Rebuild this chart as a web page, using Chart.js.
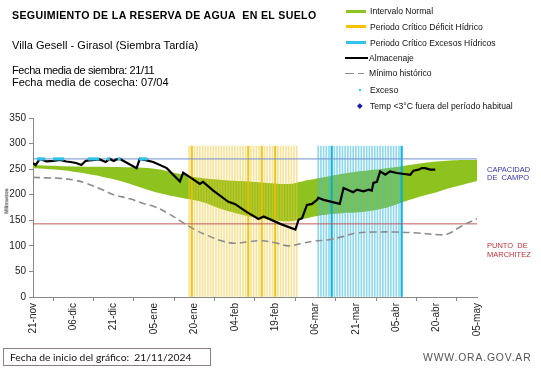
<!DOCTYPE html>
<html><head><meta charset="utf-8">
<script src="https://cdn.jsdelivr.net/npm/chart.js@4.4.1/dist/chart.umd.min.js"></script>
<style>
body{margin:0;background:#fff;}
#wrap{position:relative;width:541px;height:368px;overflow:hidden;font-family:"Liberation Sans",Arial,sans-serif;color:#000;}
#c{position:absolute;left:0;top:0;}
.t{position:absolute;white-space:pre;line-height:1;}
.lg{position:absolute;left:370px;font-size:8.6px;line-height:1;white-space:pre;color:#111;}
.sym{position:absolute;}
</style>
</head><body>
<div id="wrap">
<canvas id="c" width="541" height="368"></canvas>
<div class="t" style="left:12px;top:10px;font-size:10.6px;font-weight:bold;letter-spacing:0.35px;">SEGUIMIENTO DE LA RESERVA DE AGUA  EN EL SUELO</div>
<div class="t" style="left:12px;top:39.6px;font-size:11px;letter-spacing:0.05px;">Villa Gesell - Girasol (Siembra Tardía)</div>
<div class="t" style="left:12px;top:65.3px;font-size:11px;letter-spacing:-0.4px;">Fecha media de siembra: 21/11</div>
<div class="t" style="left:12px;top:77.3px;font-size:11px;">Fecha media de cosecha: 07/04</div>

<div class="sym" style="left:346px;top:9.5px;width:20px;height:3px;background:#8dc21f;"></div>
<div class="lg" style="top:6.8px;">Intervalo Normal</div>
<div class="sym" style="left:346px;top:25.2px;width:20px;height:3px;background:#f5c200;"></div>
<div class="lg" style="top:22.5px;">Periodo Crítico Déficit Hídrico</div>
<div class="sym" style="left:346px;top:41.2px;width:20px;height:3px;background:#33c3ea;"></div>
<div class="lg" style="top:38.5px;">Periodo Crítico Excesos Hídricos</div>
<div class="sym" style="left:345px;top:57.3px;width:23px;height:2px;background:#000;"></div>
<div class="lg" style="top:54.1px;left:369px;">Almacenaje</div>
<div class="sym" style="left:345px;top:72.5px;width:9px;height:1.6px;background:#8c8c8c;"></div>
<div class="sym" style="left:358px;top:72.5px;width:6px;height:1.6px;background:#8c8c8c;"></div>
<div class="lg" style="top:69.1px;left:369px;">Mínimo histórico</div>
<div class="sym" style="left:359px;top:89px;width:2.4px;height:2.4px;background:#2ec4ea;"></div>
<div class="lg" style="top:85.8px;">Exceso</div>
<div class="sym" style="left:358.2px;top:104.2px;width:3.6px;height:3.6px;background:#1c1ca8;transform:rotate(45deg);"></div>
<div class="lg" style="top:101.8px;">Temp &lt;3°C fuera del período habitual</div>

<div class="t" style="left:487px;top:166.3px;font-size:7.5px;color:#3535a8;">CAPACIDAD</div>
<div class="t" style="left:487px;top:174.3px;font-size:7.5px;color:#3535a8;">DE  CAMPO</div>
<div class="t" style="left:487px;top:242.3px;font-size:7.5px;color:#b8353a;">PUNTO  DE</div>
<div class="t" style="left:487px;top:251.3px;font-size:7.5px;color:#b8353a;">MARCHITEZ</div>

<div class="t" style="left:7px;top:201px;font-size:5.5px;transform:translate(-50%,-50%) rotate(-90deg);">Milímetros</div>

<div style="position:absolute;left:3px;top:348px;width:208px;height:18px;border:1px solid #8a8080;box-sizing:border-box;"></div>
<div class="t" style="left:10px;top:352px;font-size:10.3px;font-family:Lato,'Open Sans',sans-serif;color:#111;">Fecha de inicio del gráfico:  21/11/2024</div>
<div class="t" style="left:423px;top:353px;font-size:10.4px;letter-spacing:0.85px;color:#555;">WWW.ORA.GOV.AR</div>
</div>
<script>
// ---- data (x = days since 21-nov) ----
const tickLabels = ['21-nov','06-dic','21-dic','05-ene','20-ene','04-feb','19-feb','06-mar','21-mar','05-abr','20-abr','05-may'];

const bandDays  = [0, 15, 30, 45, 55, 62, 70, 80, 90, 95, 100, 105, 110, 115, 120, 125, 130, 135, 140, 145, 150, 155, 160, 165];
const bandUpper = [258, 255, 254, 251, 240, 233, 229, 226, 222, 221, 226, 231, 236, 241, 245, 248, 251, 254, 258, 262, 265, 267, 268, 268];
const bandLower = [252, 245, 230, 206, 194, 187, 172, 158, 150, 148, 152, 158, 162, 164, 165, 168, 173, 181, 190, 198, 205, 213, 220, 227];

const minDays = [0, 5, 10, 15, 20, 26, 30, 36, 42, 45, 50, 55, 60, 65, 70, 75, 80, 85, 90, 95, 100, 104, 110, 115, 120, 127, 135, 143, 150, 154, 159, 165];
const minVals = [234, 233, 232, 229, 222, 209, 200, 192, 181, 177, 164, 148, 132, 120, 110, 105, 108, 110, 106, 100, 105, 109, 112, 118, 125, 127, 127, 125, 122, 123, 138, 153];

const almDays = [0, 1, 2.5, 5, 7.5, 10, 12.4, 14, 16, 18, 19.5, 21, 24.8, 27, 28.5, 30, 31, 32.3, 38.5, 39.7, 44.7, 49.7, 54.6, 55.8, 59, 62, 63.2, 67, 72.6, 75, 79.5, 83.8, 85.7, 91.9, 97.5, 98.7, 100, 101.8, 103.7, 105.6, 106, 108, 114, 115.4, 119, 120.4, 122.8, 124.7, 125.9, 126.5, 127.8, 129, 130.9, 132.7, 135.2, 140.2, 141.4, 143.3, 144.5, 145.7, 147.6, 149.5];
const almVals = [262, 258, 270, 265, 266, 268, 265, 264, 262, 258, 266, 267, 269, 264, 270, 266, 269, 270, 252, 270, 264, 252, 226, 243, 232, 221, 225, 208, 186, 182, 166, 152.5, 157.6, 143, 132, 151, 154, 180, 182, 190, 194, 190, 182, 213, 205, 210, 206.5, 210, 208, 223, 225, 245.6, 239, 245.6, 242.5, 239, 247, 249, 252, 252, 249, 249];

const excesoDays = [2, 3, 4, 8, 9, 10, 11, 21, 22, 23, 24, 28, 32, 40, 41, 42];
const excesoVals = [270, 270, 270, 270, 270, 270, 270, 270, 270, 270, 270, 270, 270, 270, 270, 270];

const deficitDays = [58, 60, 61, 62, 63, 64, 65, 66, 67, 68, 69, 70, 71, 72, 73, 74, 75, 76, 77, 78, 79, 81, 82, 83, 84, 86, 87, 88, 89, 91, 92, 93, 94, 95, 96, 97, 98];
const deficitStrongDays = [59, 80, 85, 90];
const excesosDays = [106, 107, 108, 109, 110, 112, 113, 114, 115, 116, 117, 118, 119, 120, 121, 122, 123, 124, 125, 126, 127, 128, 129, 130, 131, 132, 133, 134, 135, 136];
const excesosStrongDays = [111, 137];
const periodTop = 295;

const capacidadCampo = 270;
const puntoMarchitez = 143;
const axisMin = 0, axisMax = 165;

// ---- build ----
const xy = (xs, ys) => xs.map((x, i) => ({x, y: ys[i]}));
const bars = (xs) => xs.map(x => ({x, y: periodTop}));

const font = {family: "'Liberation Sans', Arial, sans-serif", size: 10};

new Chart(document.getElementById('c'), {
  type: 'line',
  data: {
    datasets: [
      {data: xy(bandDays, bandLower), borderWidth: 0, pointRadius: 0, fill: false, tension: 0.4, order: 20},
      {data: xy(bandDays, bandUpper), borderWidth: 0, pointRadius: 0, fill: '-1', backgroundColor: '#8dc21f', tension: 0.4, order: 19},
      {type: 'bar', data: bars(deficitDays), backgroundColor: 'rgba(240,200,50,0.5)', barThickness: 1, grouped: false, order: 15},
      {type: 'bar', data: bars(deficitStrongDays), backgroundColor: 'rgba(238,192,0,0.9)', barThickness: 1.5, grouped: false, order: 14},
      {type: 'bar', data: bars(excesosDays), backgroundColor: 'rgba(70,190,225,0.6)', barThickness: 1, grouped: false, order: 13},
      {type: 'bar', data: bars(excesosStrongDays), backgroundColor: 'rgba(0,175,225,0.95)', barThickness: 1.5, grouped: false, order: 12},
      {data: [{x: axisMin, y: capacidadCampo}, {x: axisMax, y: capacidadCampo}], borderColor: '#6f8fce', borderWidth: 1, pointRadius: 0, order: 6},
      {data: [{x: axisMin, y: puntoMarchitez}, {x: axisMax, y: puntoMarchitez}], borderColor: '#c05a5a', borderWidth: 1, pointRadius: 0, order: 6},
      {data: xy(minDays, minVals), borderColor: '#8c8c8c', borderWidth: 1.6, borderDash: [7, 4], pointRadius: 0, tension: 0.4, order: 4},
      {data: xy(almDays, almVals), borderColor: '#000', borderWidth: 2.2, pointRadius: 0, tension: 0, order: 2},
      {data: xy(excesoDays, excesoVals), showLine: false, pointStyle: 'rect', pointRadius: 2.2, pointBackgroundColor: '#2ec4ea', pointBorderWidth: 0, order: 1}
    ]
  },
  options: {
    responsive: false,
    animation: false,
    events: [],
    layout: {padding: {left: 0, right: 64, top: 118, bottom: 0}},
    scales: {
      x: {
        type: 'linear', min: axisMin, max: axisMax, offset: false,
        afterFit: (s) => { s.height = 71; },
        ticks: {stepSize: 15, autoSkip: false, maxRotation: 90, minRotation: 90, padding: 2, color: '#222', font,
          callback: (v) => tickLabels[Math.round(v / 15)] ?? ''},
        grid: {display: true, drawOnChartArea: false, drawTicks: true, tickLength: 4, color: '#888'},
        border: {color: '#888'}
      },
      y: {
        min: 0, max: 350,
        afterFit: (s) => { s.width = 33; },
        ticks: {stepSize: 50, padding: 3, color: '#222', font},
        grid: {display: true, drawOnChartArea: false, drawTicks: true, tickLength: 4, color: '#888'},
        border: {color: '#888'}
      }
    },
    plugins: {legend: {display: false}, tooltip: {enabled: false}}
  }
});
</script>
</body></html>
